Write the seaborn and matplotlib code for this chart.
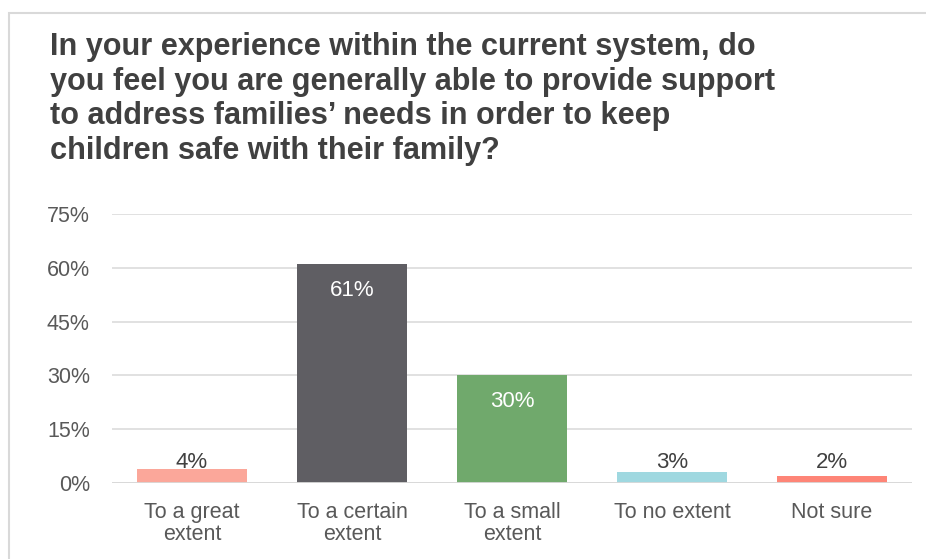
import matplotlib
matplotlib.use("Agg")
import matplotlib.pyplot as plt
import seaborn as sns
import pandas as pd
from matplotlib.patches import Rectangle

categories = ["To a great\nextent", "To a certain\nextent", "To a small\nextent", "To no extent", "Not sure"]
values = [4, 61, 30, 3, 2]
colors = ["#FBA79A", "#5F5E63", "#70A96C", "#9FD8E0", "#FE8577"]
yticks = [0, 15, 30, 45, 60, 75]
title = ("In your experience within the current system, do\n"
         "you feel you are generally able to provide support\n"
         "to address families\u2019 needs in order to keep\n"
         "children safe with their family?")

sns.set_theme(style="white")
plt.rcParams["font.family"] = ["Liberation Sans", "DejaVu Sans"]

df = pd.DataFrame({"cat": categories, "val": values})

fig = plt.figure(figsize=(9.26, 5.59), dpi=100)
ax = fig.add_axes([112/926, 1-483/559, 800/926, 269/559])

sns.barplot(data=df, x="cat", y="val", hue="cat", palette=colors, legend=False,
            width=0.69, ax=ax, saturation=1, edgecolor="none", zorder=3)

ax.set_ylim(0, 75)
ax.set_xlim(-0.5, len(categories) - 0.5)
ax.set_yticks(yticks)
ax.set_yticklabels([f"{t}%" for t in yticks])
ax.yaxis.grid(True, color="#D9D9D9", linewidth=1.1, zorder=0)
ax.set_axisbelow(True)
for s in ax.spines.values():
    s.set_visible(False)
ax.axhline(0, color="#D9D9D9", linewidth=1.3, zorder=4)
ax.set_xlabel("")
ax.set_ylabel("")
ax.tick_params(axis="y", length=0, pad=16, labelsize=15.5, labelcolor="#595959")
ax.tick_params(axis="x", length=0, pad=14, labelsize=15.5, labelcolor="#595959")
for lbl in ax.get_xticklabels():
    lbl.set_linespacing(1.05)

for i, v in enumerate(values):
    if v >= 10:
        ax.annotate(f"{v}%", xy=(i, v), xytext=(0, -19), textcoords="offset points",
                    ha="center", va="center", fontsize=16, color="white", zorder=5)
    else:
        ax.annotate(f"{v}%", xy=(i, 0), xytext=(0, 14.5), textcoords="offset points",
                    ha="center", va="center", fontsize=16, color="#404040", zorder=5)

fig.text(50/926, 1-32/559, title, ha="left", va="top", fontsize=22.1,
         fontweight="bold", color="#404040", linespacing=1.2)

fig.patches.append(Rectangle((9/926, -0.1), 1.2, 1-13/559+0.1, transform=fig.transFigure,
                             fill=False, edgecolor="#D9D9D9", linewidth=1.5))

fig.savefig("out.png", dpi=100)
